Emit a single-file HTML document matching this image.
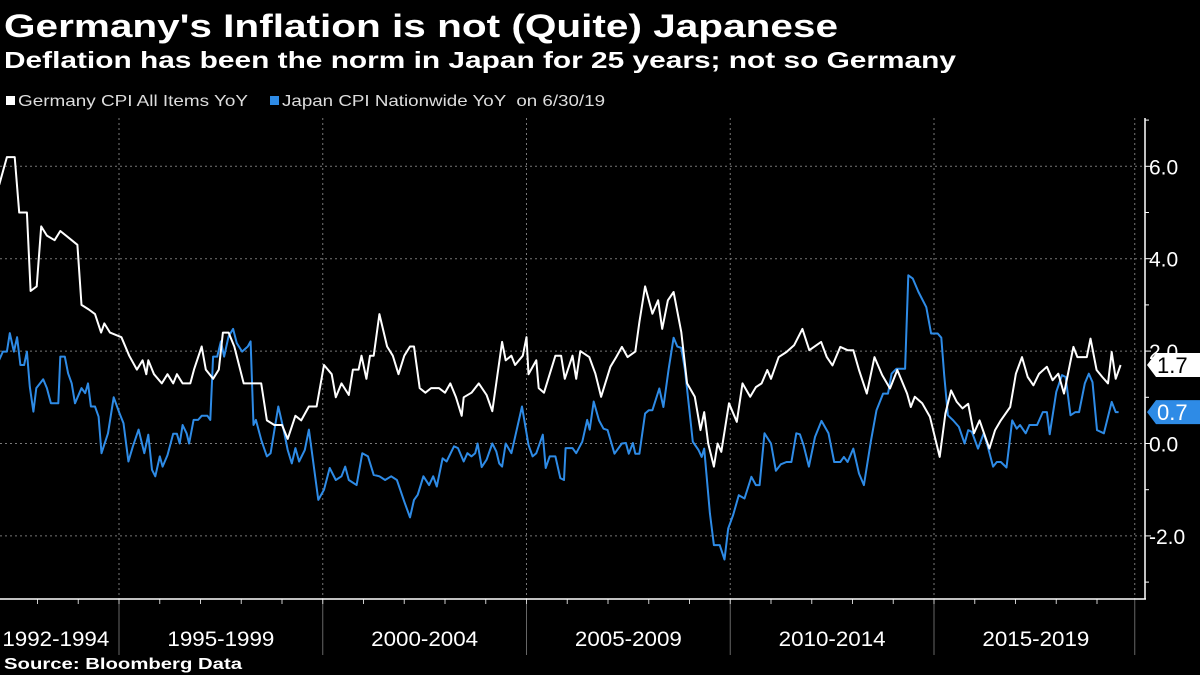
<!DOCTYPE html>
<html><head><meta charset="utf-8"><style>
html,body{margin:0;padding:0;background:#000;width:1200px;height:675px;overflow:hidden}
svg{display:block;font-family:"Liberation Sans",sans-serif}
</style></head><body>
<svg id="chart" width="1200" height="675" viewBox="0 0 1200 675">
<text x="4" y="37" fill="#fff" font-size="32" font-weight="bold" textLength="834" lengthAdjust="spacingAndGlyphs">Germany's Inflation is not (Quite) Japanese</text>
<text x="4" y="68" fill="#fff" font-size="23" font-weight="bold" textLength="952" lengthAdjust="spacingAndGlyphs">Deflation has been the norm in Japan for 25 years; not so Germany</text>
<g>
<rect x="6" y="96" width="9" height="9" fill="#fff"/>
<text x="18" y="106" fill="#ddd" font-size="16" textLength="230" lengthAdjust="spacingAndGlyphs">Germany CPI All Items YoY</text>
<rect x="270" y="96" width="9" height="9" fill="#2e8be6"/>
<text x="282" y="106" fill="#ddd" font-size="16" textLength="323" lengthAdjust="spacingAndGlyphs" xml:space="preserve">Japan CPI Nationwide YoY  on 6/30/19</text>
</g>
<g id="grid"></g><g id="axes"></g><g id="series"></g><g id="tags"></g>
<text x="4" y="669" fill="#fff" font-size="16" font-weight="bold" textLength="238" lengthAdjust="spacingAndGlyphs">Source: Bloomberg Data</text>
</svg>
<script>
const yTicks=[6,4,2,0,-2];
const yTickLabels=["6.0","4.0","2.0","0.0","-2.0"];
const periodBreaks=[1995,2000,2005,2010,2015,2020];
const periodLabels=["1992-1994","1995-1999","2000-2004","2005-2009","2010-2014","2015-2019"];
const periodCenters=[1993.45,1997.5,2002.5,2007.5,2012.5,2017.5];
const deYears=[1992.06,1992.25,1992.44,1992.55,1992.74,1992.83,1992.98,1993.09,1993.23,1993.42,1993.56,1993.84,1993.98,1994.08,1994.26,1994.41,1994.56,1994.64,1994.78,1995.06,1995.25,1995.44,1995.58,1995.67,1995.72,1995.86,1996.05,1996.19,1996.33,1996.42,1996.56,1996.75,1996.84,1997.03,1997.13,1997.31,1997.45,1997.55,1997.69,1997.83,1998.06,1998.25,1998.49,1998.63,1998.81,1999.0,1999.14,1999.33,1999.47,1999.66,1999.85,2000.03,2000.22,2000.32,2000.46,2000.64,2000.74,2000.88,2000.95,2001.07,2001.16,2001.25,2001.39,2001.58,2001.72,2001.86,2002.0,2002.14,2002.24,2002.38,2002.52,2002.66,2002.85,2003.0,2003.13,2003.27,2003.41,2003.46,2003.65,2003.83,2004.02,2004.16,2004.4,2004.49,2004.63,2004.72,2004.91,2005.0,2005.05,2005.24,2005.3,2005.43,2005.57,2005.71,2005.85,2005.94,2006.13,2006.22,2006.32,2006.54,2006.69,2006.83,2006.97,2007.06,2007.2,2007.34,2007.48,2007.67,2007.77,2007.91,2008.09,2008.23,2008.33,2008.47,2008.61,2008.8,2008.94,2009.13,2009.27,2009.36,2009.46,2009.6,2009.69,2009.78,2009.97,2010.16,2010.3,2010.49,2010.63,2010.77,2010.91,2011.0,2011.19,2011.38,2011.57,2011.77,2011.94,2012.23,2012.37,2012.51,2012.7,2012.88,2013.02,2013.16,2013.35,2013.54,2013.73,2013.92,2014.1,2014.34,2014.43,2014.53,2014.71,2014.9,2015.14,2015.28,2015.42,2015.56,2015.7,2015.84,2015.98,2016.12,2016.26,2016.36,2016.5,2016.64,2016.87,2017.01,2017.16,2017.3,2017.44,2017.58,2017.77,2017.91,2018.05,2018.19,2018.42,2018.52,2018.75,2018.84,2018.99,2019.13,2019.27,2019.36,2019.46,2019.58];
const deValues=[5.6,6.2,6.2,5.0,5.0,3.3,3.4,4.7,4.5,4.4,4.6,4.4,4.3,3.0,2.9,2.8,2.4,2.6,2.4,2.3,1.9,1.6,1.8,1.5,1.8,1.5,1.3,1.5,1.3,1.5,1.3,1.3,1.6,2.1,1.6,1.4,1.6,2.4,2.4,2.1,1.3,1.3,1.3,0.5,0.4,0.4,0.1,0.6,0.5,0.8,0.8,1.7,1.5,1.0,1.3,1.05,1.6,1.6,1.9,1.4,1.9,1.9,2.8,2.1,1.9,1.5,1.9,2.1,2.1,1.2,1.1,1.2,1.2,1.1,1.3,1.0,0.6,1.0,1.1,1.3,1.05,0.7,2.2,1.8,1.9,1.7,1.9,2.3,1.5,1.8,1.2,1.1,1.5,1.9,1.9,1.4,1.9,1.4,2.0,1.87,1.51,1.01,1.41,1.66,1.87,2.09,1.87,1.99,2.63,3.4,2.81,3.1,2.48,3.1,3.28,2.41,1.3,1.01,0.29,0.68,0.0,-0.5,0.0,-0.18,0.87,0.47,1.3,1.01,1.22,1.3,1.59,1.4,1.87,1.98,2.13,2.48,2.02,2.2,1.87,1.69,2.09,2.02,2.02,1.59,1.08,1.87,1.48,1.19,1.59,1.08,0.79,1.01,0.87,0.58,-0.29,0.65,1.15,0.9,0.76,0.86,0.22,0.5,0.14,-0.11,0.29,0.5,0.79,1.51,1.87,1.44,1.26,1.51,1.66,1.37,1.51,1.08,2.09,1.87,1.87,2.27,1.59,1.44,1.3,1.98,1.4,1.7];
const jpYears=[1992.06,1992.15,1992.25,1992.32,1992.42,1992.5,1992.58,1992.67,1992.74,1992.81,1992.9,1992.97,1993.14,1993.23,1993.33,1993.51,1993.56,1993.67,1993.75,1993.84,1993.92,1994.08,1994.17,1994.24,1994.31,1994.41,1994.5,1994.57,1994.73,1994.87,1995.01,1995.11,1995.23,1995.34,1995.48,1995.62,1995.72,1995.81,1995.89,1996.0,1996.07,1996.19,1996.33,1996.42,1996.49,1996.56,1996.66,1996.72,1996.83,1996.94,1997.03,1997.17,1997.24,1997.31,1997.41,1997.5,1997.58,1997.69,1997.8,1997.89,1998.02,1998.16,1998.23,1998.3,1998.36,1998.49,1998.63,1998.72,1998.91,1999.05,1999.14,1999.24,1999.33,1999.42,1999.56,1999.66,1999.89,2000.03,2000.17,2000.32,2000.46,2000.55,2000.64,2000.83,2000.97,2001.11,2001.25,2001.39,2001.53,2001.68,2001.82,2002.0,2002.14,2002.24,2002.33,2002.47,2002.61,2002.71,2002.8,2002.94,2003.04,2003.22,2003.32,2003.46,2003.55,2003.65,2003.74,2003.8,2003.9,2004.02,2004.16,2004.26,2004.33,2004.4,2004.49,2004.63,2004.89,2005.05,2005.15,2005.24,2005.4,2005.47,2005.57,2005.71,2005.83,2005.92,2005.96,2006.13,2006.22,2006.37,2006.49,2006.55,2006.65,2006.78,2006.89,2006.99,2007.16,2007.34,2007.44,2007.51,2007.61,2007.67,2007.77,2007.91,2008.0,2008.09,2008.26,2008.36,2008.49,2008.61,2008.7,2008.8,2008.89,2009.08,2009.22,2009.3,2009.36,2009.5,2009.6,2009.74,2009.86,2009.95,2010.07,2010.21,2010.35,2010.52,2010.63,2010.72,2010.84,2011.0,2011.12,2011.24,2011.38,2011.5,2011.62,2011.71,2011.8,2011.93,2012.08,2012.24,2012.41,2012.55,2012.7,2012.79,2012.88,2013.02,2013.16,2013.28,2013.45,2013.59,2013.75,2013.87,2013.96,2014.08,2014.29,2014.37,2014.48,2014.62,2014.81,2014.93,2015.09,2015.18,2015.25,2015.34,2015.47,2015.61,2015.75,2015.84,2015.93,2016.08,2016.22,2016.31,2016.45,2016.54,2016.64,2016.78,2016.92,2017.03,2017.11,2017.25,2017.34,2017.53,2017.67,2017.77,2017.84,2018.0,2018.14,2018.23,2018.35,2018.47,2018.56,2018.7,2018.8,2018.89,2019.0,2019.17,2019.36,2019.46,2019.53];
const jpValues=[1.81,1.99,1.99,2.39,1.99,2.3,1.7,1.7,1.99,1.23,0.69,1.2,1.39,1.2,0.87,0.87,1.88,1.88,1.52,1.3,0.87,1.2,1.09,1.3,0.8,0.8,0.58,-0.21,0.22,1.0,0.66,0.44,-0.39,-0.06,0.3,-0.21,0.19,-0.57,-0.71,-0.28,-0.5,-0.25,0.21,0.21,0.0,0.4,0.22,0.0,0.51,0.51,0.6,0.6,0.51,1.88,1.88,2.21,1.88,2.32,2.48,2.17,1.99,2.1,2.21,0.4,0.51,0.08,-0.28,-0.21,0.8,0.26,-0.14,-0.43,-0.1,-0.39,-0.14,0.3,-1.22,-1.0,-0.53,-0.79,-0.71,-0.5,-0.79,-0.9,-0.21,-0.28,-0.68,-0.71,-0.79,-0.71,-0.79,-1.26,-1.6,-1.22,-1.11,-0.71,-0.9,-0.71,-0.93,-0.32,-0.39,-0.06,-0.1,-0.39,-0.21,-0.28,-0.21,0.0,-0.51,-0.35,0.0,-0.17,-0.43,-0.5,0.0,-0.21,0.8,-0.03,-0.28,-0.21,0.19,-0.53,-0.28,-0.28,-0.75,-0.79,-0.1,-0.1,-0.21,0.04,0.51,0.3,0.91,0.5,0.32,0.29,-0.22,0,0.01,-0.22,0.01,-0.22,-0.22,0.65,0.72,0.72,1.19,0.79,1.62,2.29,2.1,2.07,1.59,0.04,-0.14,-0.29,-0.11,-1.51,-2.2,-2.2,-2.51,-1.84,-1.55,-1.12,-1.19,-0.72,-0.9,-0.9,0.22,0,-0.59,-0.45,-0.4,-0.4,0.22,0.2,-0.04,-0.5,0.14,0.49,0.22,-0.4,-0.4,-0.29,-0.4,-0.11,-0.65,-0.9,0.04,0.72,1.08,1.08,1.51,1.62,1.62,3.64,3.57,3.28,2.95,2.38,2.38,2.29,1.48,0.61,0.5,0.36,0,0.29,0.25,-0.11,0.22,-0.04,-0.5,-0.4,-0.4,-0.52,0.5,0.32,0.4,0.22,0.4,0.4,0.68,0.68,0.2,1.12,1.48,1.44,0.61,0.68,0.68,1.3,1.51,1.33,0.29,0.22,0.9,0.68,0.68];
const lastLabels=["1.7","0.7"];

const NS="http://www.w3.org/2000/svg";
const X0=119, PX_YEAR=40.75, Y0=443.5, PX_UNIT=46.2;
const PLOT_L=0, PLOT_R=1145, PLOT_T=118, PLOT_B=599;
function xs(y){return X0+(y-1995)*PX_YEAR;}
function ys(v){return Y0-v*PX_UNIT;}
function mk(tag,attrs,parent){const e=document.createElementNS(NS,tag);for(const k in attrs)e.setAttribute(k,attrs[k]);parent.appendChild(e);return e;}
const grid=document.getElementById('grid'),axes=document.getElementById('axes'),series=document.getElementById('series'),tags=document.getElementById('tags');

yTicks.forEach((t,i)=>{
  const l=mk('line',{x1:PLOT_L,x2:PLOT_R,y1:ys(t),y2:ys(t),stroke:'#777','stroke-width':1,'stroke-dasharray':'2,3'},grid);
  
  
  const tk=mk('line',{x1:PLOT_R,x2:PLOT_R+6,y1:ys(t),y2:ys(t),stroke:'#fff'},axes);
  
  
  const tx=mk('text',{x:PLOT_R+4,y:ys(t)+8,fill:'#fff','font-size':21},axes);
  tx.textContent=yTickLabels[i];
  
  
});
for(let v=-3;v<=7;v+=2){
  const tk=mk('line',{x1:PLOT_R,x2:PLOT_R+4,y1:ys(v),y2:ys(v),stroke:'#fff'},axes);
  
  
}
periodBreaks.forEach(b=>{
  const x=xs(b)-(b===2020?3:0);
  const g=mk('line',{x1:x,x2:x,y1:PLOT_T,y2:PLOT_B,stroke:'#777','stroke-dasharray':'2,3'},grid);
  
  
  const s=mk('line',{x1:x,x2:x,y1:PLOT_B,y2:655,stroke:'#666'},axes);
  
  
});
for(let yr=1993;yr<=2019;yr++){
  const tk=mk('line',{x1:xs(yr),x2:xs(yr),y1:PLOT_B,y2:PLOT_B+5,stroke:'#ccc'},axes);
  
  
}
periodLabels.forEach((p,i)=>{
  const t=mk('text',{x:xs(periodCenters[i]),y:646,fill:'#fff','font-size':21,'text-anchor':'middle',textLength:107,lengthAdjust:'spacingAndGlyphs'},axes);
  t.textContent=p;
  
  
});
const xa=mk('line',{x1:0,x2:PLOT_R+1,y1:PLOT_B,y2:PLOT_B,stroke:'#fff','stroke-width':1.5},axes);


const ya=mk('line',{x1:PLOT_R,x2:PLOT_R,y1:PLOT_T,y2:PLOT_B,stroke:'#fff','stroke-width':1.5},axes);



function pathOf(yrs,vals){return yrs.map((y,i)=>(i?'L':'M')+xs(y).toFixed(1)+','+ys(vals[i]).toFixed(1)).join('');}
const jp=mk('path',{d:pathOf(jpYears,jpValues),fill:'none',stroke:'#2e8be6','stroke-width':2,'stroke-linejoin':'round'},series);


const de=mk('path',{d:pathOf(deYears,deValues),fill:'none',stroke:'#fff','stroke-width':2,'stroke-linejoin':'round'},series);



function tag(v,label,bg,fg,name){
  const y=ys(v);
  const p=mk('path',{d:`M1147,${y} L1156,${y-12} L1200,${y-12} L1200,${y+12} L1156,${y+12} Z`,fill:bg},tags);
  
  
  const t=mk('text',{x:1157,y:y+8,fill:fg,'font-size':22},tags);
  t.textContent=label;
  
  
}
tag(deValues[deValues.length-1],lastLabels[0],'#fff','#000','germany-last-value');
tag(jpValues[jpValues.length-1],lastLabels[1],'#2e8be6','#fff','japan-last-value');
</script>
</body></html>
